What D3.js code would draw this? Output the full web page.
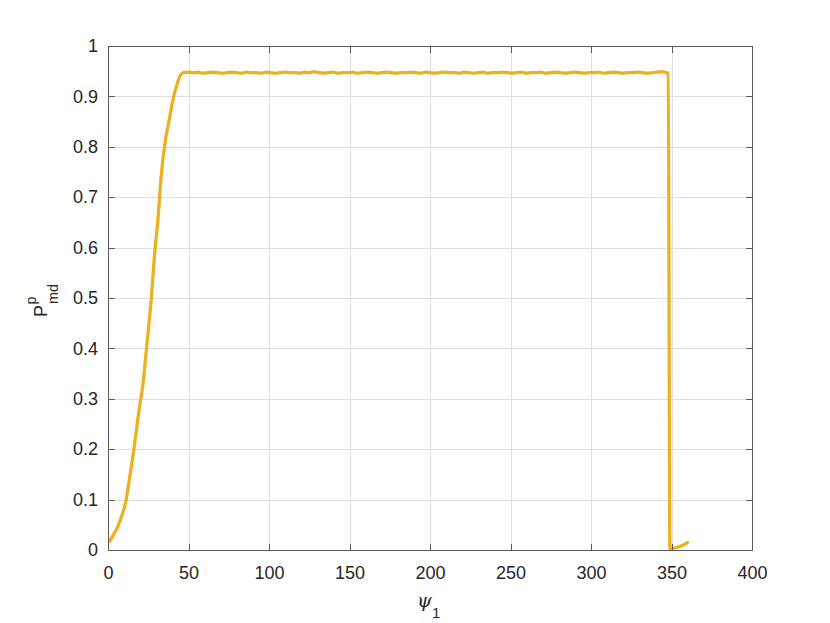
<!DOCTYPE html>
<html>
<head>
<meta charset="utf-8">
<script src="https://cdn.jsdelivr.net/npm/d3@7"></script>
<style>
  html, body { margin: 0; padding: 0; background: #ffffff; }
  svg { display: block; }
</style>
</head>
<body>
<svg id="chart" width="830" height="623"></svg>
<script>
// ---------- data ----------
const psi = [
  1, 3, 6, 9, 11, 13, 16, 19, 22, 24, 27, 29, 31, 33, 36, 38, 40, 43, 45, 47,
  50, 53, 56, 59, 62, 65, 68, 71, 74, 77,
  80, 83, 86, 89, 92, 95, 98, 101, 104, 107,
  110, 113, 116, 119, 122, 125, 128, 131, 134, 137,
  140, 143, 146, 149, 152, 155, 158, 161, 164, 167,
  170, 173, 176, 179, 182, 185, 188, 191, 194, 197,
  200, 203, 206, 209, 212, 215, 218, 221, 224, 227,
  230, 233, 236, 239, 242, 245, 248, 251, 254, 257,
  260, 263, 266, 269, 272, 275, 278, 281, 284, 287,
  290, 293, 296, 299, 302, 305, 308, 311, 314, 317,
  320, 323, 326, 329, 332, 335, 338, 341, 344, 347,
  348, 349, 352, 355, 358, 360
];
const pmd = [
  0.017, 0.028, 0.046, 0.072, 0.095, 0.135, 0.198, 0.271, 0.337, 0.403,
  0.503, 0.589, 0.655, 0.741, 0.820, 0.853, 0.888, 0.925, 0.942, 0.947,
  0.948, 0.947, 0.948, 0.946, 0.947, 0.948, 0.947, 0.946, 0.947, 0.948,
  0.947, 0.946, 0.948, 0.947, 0.947, 0.946, 0.948, 0.947, 0.946, 0.947,
  0.948, 0.947, 0.947, 0.946, 0.948, 0.947, 0.949, 0.947, 0.946, 0.947,
  0.948, 0.946, 0.947, 0.947, 0.948, 0.946, 0.947, 0.948, 0.947, 0.946,
  0.947, 0.948, 0.947, 0.946, 0.947, 0.947, 0.948, 0.947, 0.946, 0.948,
  0.947, 0.946, 0.947, 0.948, 0.947, 0.947, 0.946, 0.948, 0.947, 0.946,
  0.947, 0.948, 0.946, 0.947, 0.947, 0.948, 0.947, 0.946, 0.947, 0.948,
  0.946, 0.947, 0.947, 0.948, 0.946, 0.947, 0.948, 0.947, 0.946, 0.947,
  0.948, 0.947, 0.946, 0.947, 0.947, 0.948, 0.946, 0.947, 0.948, 0.947,
  0.946, 0.947, 0.947, 0.948, 0.947, 0.946, 0.947, 0.948, 0.949, 0.947,
  0.946, 0.003, 0.004, 0.007, 0.011, 0.015
];
const xTicks = [0, 50, 100, 150, 200, 250, 300, 350, 400];
const xTickLabels = ["0", "50", "100", "150", "200", "250", "300", "350", "400"];
const yTicks = [0, 0.1, 0.2, 0.3, 0.4, 0.5, 0.6, 0.7, 0.8, 0.9, 1];
const yTickLabels = ["0", "0.1", "0.2", "0.3", "0.4", "0.5", "0.6", "0.7", "0.8", "0.9", "1"];

// ---------- layout ----------
const padL = 108, padR = 752, padT = 46, padB = 550;
const font = "'Liberation Sans', Arial, Helvetica, sans-serif";
const textColor = "#262626";
const axisColor = "#5a5a5a";
const gridColor = "#e0e0e0";
const lineColor = "#EDB120";

const svg = d3.select("#chart");
svg.append("rect").attr("width", 830).attr("height", 623).attr("fill", "#ffffff");

const x = d3.scaleLinear().domain([0, 400]).range([padL, padR]);
const y = d3.scaleLinear().domain([0, 1]).range([padB, padT]);

// grid
const gx = svg.append("g").attr("transform", `translate(0,${padB})`)
  .call(d3.axisBottom(x).tickValues(xTicks).tickSize(-(padB - padT)).tickFormat(""));
gx.select(".domain").remove();
gx.selectAll("line").attr("stroke", gridColor).attr("stroke-width", 1).attr("shape-rendering", "crispEdges");

const gy = svg.append("g").attr("transform", `translate(${padL},0)`)
  .call(d3.axisLeft(y).tickValues(yTicks).tickSize(-(padR - padL)).tickFormat(""));
gy.select(".domain").remove();
gy.selectAll("line").attr("stroke", gridColor).attr("stroke-width", 1).attr("shape-rendering", "crispEdges");

// data line
const line = d3.line().curve(d3.curveMonotoneX).x((d, i) => x(psi[i])).y(d => y(d));
svg.append("path")
  .datum(pmd)
  .attr("d", line)
  .attr("fill", "none")
  .attr("stroke", lineColor)
  .attr("stroke-width", 3.3)
  .attr("stroke-linejoin", "round")
  .attr("stroke-linecap", "round");

// axes
const tick = 6.5;
function styleAxis(g) {
  g.select(".domain").attr("stroke", axisColor).attr("stroke-width", 1).attr("shape-rendering", "crispEdges");
  g.selectAll(".tick line").attr("stroke", axisColor).attr("stroke-width", 1).attr("shape-rendering", "crispEdges");
  g.selectAll(".tick text").attr("fill", textColor).attr("font-family", font).attr("font-size", 18);
}
const ab = svg.append("g").attr("transform", `translate(0,${padB})`)
  .call(d3.axisBottom(x).tickValues(xTicks).tickSizeInner(-tick).tickSizeOuter(0).tickPadding(16)
    .tickFormat((d, i) => xTickLabels[i]));
styleAxis(ab);
const at = svg.append("g").attr("transform", `translate(0,${padT})`)
  .call(d3.axisTop(x).tickValues(xTicks).tickSizeInner(-tick).tickSizeOuter(0).tickFormat(""));
styleAxis(at);
const al = svg.append("g").attr("transform", `translate(${padL},0)`)
  .call(d3.axisLeft(y).tickValues(yTicks).tickSizeInner(-tick).tickSizeOuter(0).tickPadding(10)
    .tickFormat((d, i) => yTickLabels[i]));
styleAxis(al);
const ar = svg.append("g").attr("transform", `translate(${padR},0)`)
  .call(d3.axisRight(y).tickValues(yTicks).tickSizeInner(-tick).tickSizeOuter(0).tickFormat(""));
styleAxis(ar);

// x label: psi_1
const xl = svg.append("g").attr("fill", textColor);
xl.append("text").attr("x", 417).attr("y", 607)
  .attr("font-family", "'DejaVu Serif', 'Liberation Serif', serif").attr("font-style", "italic")
  .attr("font-size", 19).text("ψ");
xl.append("text").attr("x", 432).attr("y", 618)
  .attr("font-family", font).attr("font-size", 15).text("1");

// y label: P^p_md
const yl = svg.append("g").attr("transform", "translate(47,298) rotate(-90)").attr("fill", textColor)
  .attr("font-family", font);
yl.append("text").attr("x", -19).attr("y", 0).attr("font-size", 18).text("P");
yl.append("text").attr("x", -6.5).attr("y", -11).attr("font-size", 14).text("p");
yl.append("text").attr("x", -6).attr("y", 11).attr("font-size", 14.5).text("md");
</script>
</body>
</html>
